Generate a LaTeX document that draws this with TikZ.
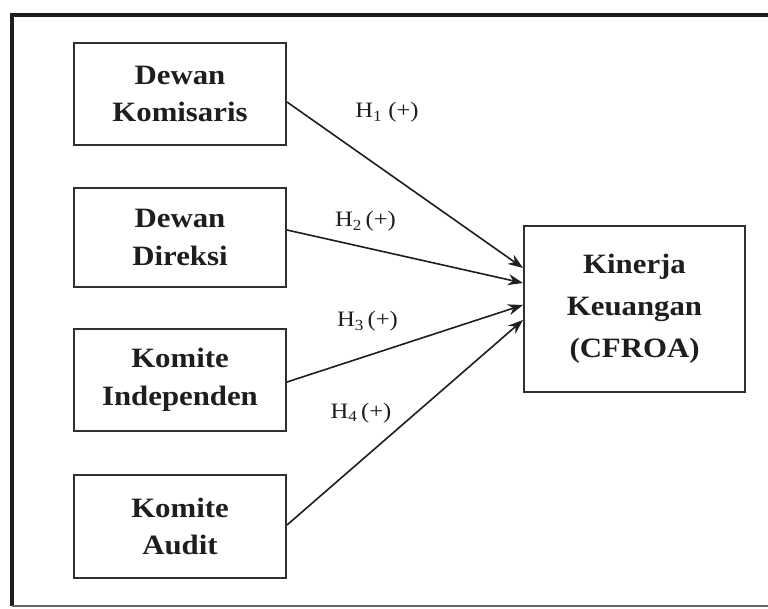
\documentclass[tikz,border=0pt]{standalone}
\usepackage{fontspec}
\setmainfont{Liberation Serif}
\newfontfamily\boxfont{Liberation Serif}[FakeStretch=1.1]
\newfontfamily\labfont{Liberation Serif}[FakeStretch=1.12]
\usetikzlibrary{arrows.meta}
\definecolor{ink}{HTML}{1E1E1E}
\definecolor{edge}{HTML}{303030}
\begin{document}
\begin{tikzpicture}[x=1pt,y=-1pt,
  var/.style={draw=edge,line width=2pt,inner sep=0pt,align=center,text=ink,
    font={\boxfont\bfseries\fontsize{28}{37.5}\selectfont}},
  dep/.style={var,font={\boxfont\bfseries\fontsize{28}{42}\selectfont}},
  arr/.style={draw=ink,line width=1.6pt,-{Stealth[length=15pt,width=11pt]}},
  lab/.style={anchor=base,inner sep=0pt,text=ink,font={\labfont\fontsize{22}{26}\selectfont}}]
\useasboundingbox (0,0) rectangle (768,609);
\fill[white] (0,0) rectangle (768,609);
% frame
\draw[line width=4pt,draw=ink] (780,15) -- (12,15) -- (12,606);
\draw[line width=2pt,draw=black!60] (12,606) -- (780,606);
% boxes
\node[var,minimum width=212,minimum height=102] (b1) at (180,94) {Dewan\\Komisaris};
\node[var,minimum width=212,minimum height=99] (b2) at (180,237.5) {Dewan\\Direksi};
\node[var,minimum width=212,minimum height=102] (b3) at (180,380) {Komite\\Independen};
\node[var,minimum width=212,minimum height=103] (b4) at (180,526.5) {Komite\\Audit};
\node[dep,minimum width=221,minimum height=166] (t) at (634.5,309) {Kinerja\\Keuangan\\(CFROA)};
% arrows
\draw[arr] ([yshift=-8pt]b1.east) -- ([yshift=41pt]t.west);
\draw[arr] ([yshift=7.5pt]b2.east) -- ([yshift=26pt]t.west);
\draw[arr] ([yshift=-2pt]b3.east) -- ([yshift=4pt]t.west);
\draw[arr] ([yshift=1.5pt]b4.east) -- ([yshift=-11pt]t.west);
% labels
\node[lab] (h1) at (387,118) {H\textsubscript{1} (+)};
\node[lab] (h2) at (365.5,227) {H\textsubscript{2}\,(+)};
\node[lab] (h3) at (367.5,327) {H\textsubscript{3}\,(+)};
\node[lab] (h4) at (361,418) {H\textsubscript{4}\,(+)};
\end{tikzpicture}
\end{document}
